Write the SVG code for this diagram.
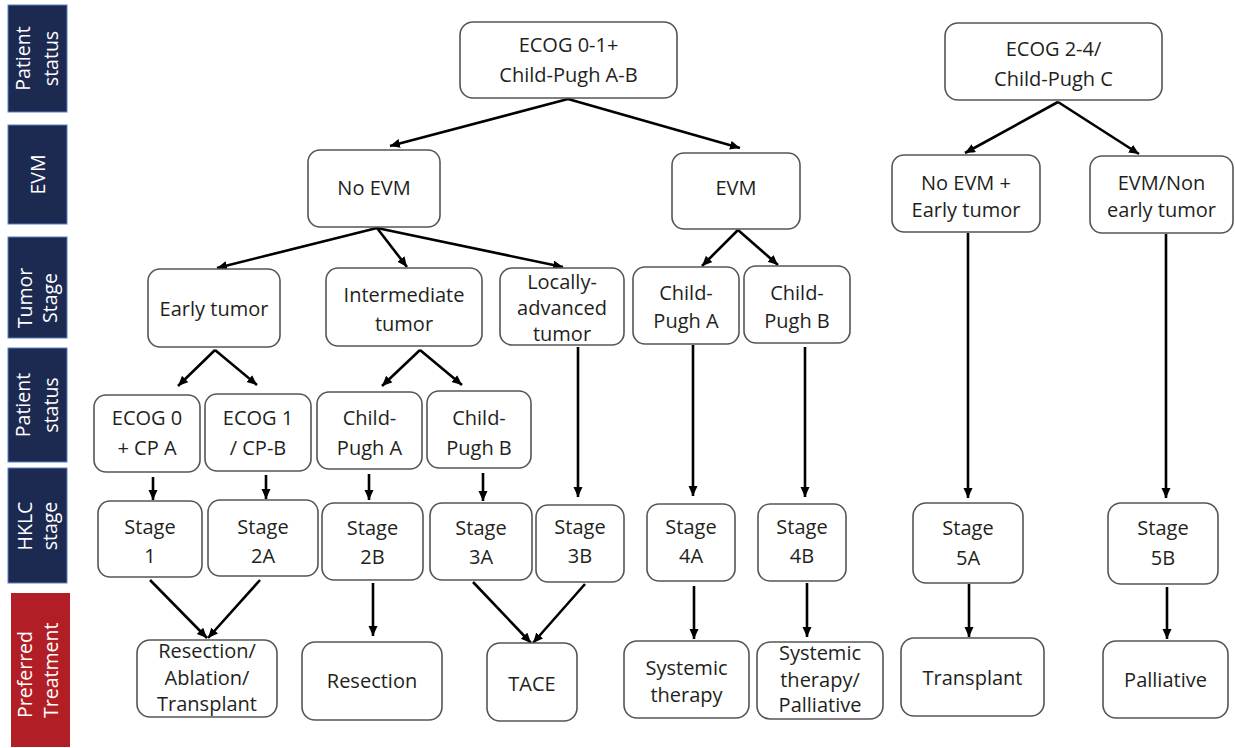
<svg xmlns="http://www.w3.org/2000/svg" width="1235" height="748" viewBox="0 0 1235 748">
<defs>
<marker id="ah" markerUnits="userSpaceOnUse" markerWidth="11" markerHeight="10" refX="10" refY="4.5" orient="auto">
<path d="M0,0 L10,4.5 L0,9 z" fill="#000"/>
</marker>
<style>
.side{fill:#1c2a52;stroke:#5b7fbf;stroke-width:1}
.red{fill:#b21e26}
.st{font-family:"Open Sans","Noto Sans",sans-serif;font-size:19.5px;fill:#fff;text-anchor:middle}
.box{fill:#fff;stroke:#555;stroke-width:1.6}
.t{font-family:"Open Sans","Noto Sans",sans-serif;font-size:20px;fill:#231f20;text-anchor:middle}
.c{fill:none;stroke:#000;stroke-width:2.6;marker-end:url(#ah)}
</style>
</defs>
<rect width="1235" height="748" fill="#fff"/>

<g id="sidebar">
<rect class="side" x="8" y="5" width="59" height="107"/>
<g transform="translate(0,58.5) rotate(-90)"><text class="st" x="0" y="30">Patient</text><text class="st" x="0" y="58">status</text></g>
<rect class="side" x="8" y="125" width="59" height="99"/>
<g transform="translate(0,174.5) rotate(-90)"><text class="st" x="0" y="45">EVM</text></g>
<rect class="side" x="8" y="237" width="59" height="101"/>
<g transform="translate(0,298) rotate(-90)"><text class="st" x="0" y="32">Tumor</text><text class="st" x="0" y="57">Stage</text></g>
<rect class="side" x="8" y="348" width="59" height="114"/>
<g transform="translate(0,405) rotate(-90)"><text class="st" x="0" y="30">Patient</text><text class="st" x="0" y="58">status</text></g>
<rect class="side" x="8" y="468" width="59" height="115"/>
<g transform="translate(0,526) rotate(-90)"><text class="st" x="0" y="32">HKLC</text><text class="st" x="0" y="57">stage</text></g>
<rect class="red" x="11" y="593" width="59" height="154"/>
<g transform="translate(0,718) rotate(-90)"><text class="st" x="0" y="32" style="text-anchor:start">Preferred</text><text class="st" x="0" y="58" style="text-anchor:start">Treatment</text></g>
</g>

<g id="connectors">
<line class="c" x1="568" y1="99" x2="390" y2="146"/>
<line class="c" x1="568" y1="99" x2="740" y2="148"/>
<line class="c" x1="1058" y1="102" x2="965" y2="153"/>
<line class="c" x1="1058" y1="102" x2="1139" y2="154"/>
<line class="c" x1="377" y1="228" x2="217" y2="268"/>
<line class="c" x1="377" y1="228" x2="407" y2="267"/>
<line class="c" x1="377" y1="228" x2="563" y2="267"/>
<line class="c" x1="738" y1="230" x2="702" y2="266"/>
<line class="c" x1="738" y1="230" x2="778" y2="265"/>
<line class="c" x1="215" y1="350" x2="178" y2="386"/>
<line class="c" x1="215" y1="350" x2="257" y2="385"/>
<line class="c" x1="420" y1="350" x2="382" y2="386"/>
<line class="c" x1="420" y1="350" x2="462" y2="385"/>
<line class="c" x1="578" y1="347" x2="578" y2="497"/>
<line class="c" x1="693" y1="345" x2="693" y2="496"/>
<line class="c" x1="805" y1="347" x2="805" y2="497"/>
<line class="c" x1="968" y1="233" x2="968" y2="498"/>
<line class="c" x1="1166" y1="234" x2="1166" y2="498"/>
<line class="c" x1="153" y1="477" x2="153" y2="500"/>
<line class="c" x1="266" y1="475" x2="266" y2="499"/>
<line class="c" x1="369" y1="474" x2="369" y2="500"/>
<line class="c" x1="483" y1="473" x2="483" y2="501"/>
<line class="c" x1="150" y1="580" x2="207" y2="638"/>
<line class="c" x1="260" y1="580" x2="208" y2="638"/>
<line class="c" x1="373" y1="583" x2="373" y2="636"/>
<line class="c" x1="473" y1="582" x2="531" y2="643"/>
<line class="c" x1="585" y1="584" x2="533" y2="643"/>
<line class="c" x1="694" y1="586" x2="694" y2="639"/>
<line class="c" x1="807" y1="583" x2="807" y2="637"/>
<line class="c" x1="969" y1="584" x2="969" y2="637"/>
<line class="c" x1="1167" y1="587" x2="1167" y2="639"/>
</g>

<g id="n_top"><rect class="box" x="460" y="22" width="217" height="76" rx="13"/><text class="t" x="568.5" y="52">ECOG 0-1+</text><text class="t" x="568.5" y="82">Child-Pugh A-B</text></g>
<g id="n_top_right"><rect class="box" x="945" y="23" width="217" height="77" rx="13"/><text class="t" x="1053.5" y="56">ECOG 2-4/</text><text class="t" x="1053.5" y="86">Child-Pugh C</text></g>
<g id="n_no_evm"><rect class="box" x="308" y="150" width="132" height="77" rx="12"/><text class="t" x="374" y="195">No EVM</text></g>
<g id="n_evm"><rect class="box" x="672" y="153" width="128" height="76" rx="12"/><text class="t" x="736" y="195">EVM</text></g>
<g id="n_noevm_early"><rect class="box" x="892" y="155" width="148" height="77" rx="12"/><text class="t" x="966" y="190">No EVM +</text><text class="t" x="966" y="217">Early tumor</text></g>
<g id="n_evm_nonearly"><rect class="box" x="1090" y="156" width="143" height="77" rx="12"/><text class="t" x="1161.5" y="190">EVM/Non</text><text class="t" x="1161.5" y="217">early tumor</text></g>

<g id="n_early"><rect class="box" x="148" y="269" width="132" height="78" rx="12"/><text class="t" x="214" y="316">Early tumor</text></g>
<g id="n_intermediate"><rect class="box" x="326" y="268" width="156" height="78" rx="12"/><text class="t" x="404" y="302">Intermediate</text><text class="t" x="404" y="331">tumor</text></g>
<g id="n_locally"><rect class="box" x="500" y="268" width="124" height="77" rx="12"/><text class="t" x="562" y="289">Locally-</text><text class="t" x="562" y="315">advanced</text><text class="t" x="562" y="341">tumor</text></g>
<g id="n_cpa_top"><rect class="box" x="633" y="267" width="106" height="77" rx="12"/><text class="t" x="686" y="300">Child-</text><text class="t" x="686" y="328">Pugh A</text></g>
<g id="n_cpb_top"><rect class="box" x="744" y="266" width="106" height="77" rx="12"/><text class="t" x="797" y="300">Child-</text><text class="t" x="797" y="328">Pugh B</text></g>

<g id="n_ecog0"><rect class="box" x="94" y="395" width="106" height="77" rx="12"/><text class="t" x="147" y="425">ECOG 0</text><text class="t" x="147" y="455">+ CP A</text></g>
<g id="n_ecog1"><rect class="box" x="205" y="394" width="106" height="77" rx="12"/><text class="t" x="258" y="425">ECOG 1</text><text class="t" x="258" y="455">/ CP-B</text></g>
<g id="n_cpa"><rect class="box" x="317" y="392" width="105" height="77" rx="12"/><text class="t" x="369.5" y="425">Child-</text><text class="t" x="369.5" y="455">Pugh A</text></g>
<g id="n_cpb"><rect class="box" x="427" y="391" width="104" height="77" rx="12"/><text class="t" x="479" y="425">Child-</text><text class="t" x="479" y="455">Pugh B</text></g>

<g id="n_stage1"><rect class="box" x="98" y="501" width="104" height="76" rx="12"/><text class="t" x="150" y="534">Stage</text><text class="t" x="150" y="563">1</text></g>
<g id="n_stage2a"><rect class="box" x="208" y="500" width="110" height="76" rx="12"/><text class="t" x="263" y="534">Stage</text><text class="t" x="263" y="563">2A</text></g>
<g id="n_stage2b"><rect class="box" x="322" y="503" width="101" height="77" rx="12"/><text class="t" x="372.5" y="535">Stage</text><text class="t" x="372.5" y="564">2B</text></g>
<g id="n_stage3a"><rect class="box" x="430" y="503" width="102" height="77" rx="12"/><text class="t" x="481" y="535">Stage</text><text class="t" x="481" y="564">3A</text></g>
<g id="n_stage3b"><rect class="box" x="536" y="505" width="88" height="77" rx="12"/><text class="t" x="580" y="534">Stage</text><text class="t" x="580" y="563">3B</text></g>
<g id="n_stage4a"><rect class="box" x="647" y="504" width="88" height="77" rx="12"/><text class="t" x="691" y="534">Stage</text><text class="t" x="691" y="563">4A</text></g>
<g id="n_stage4b"><rect class="box" x="758" y="504" width="88" height="77" rx="12"/><text class="t" x="802" y="534">Stage</text><text class="t" x="802" y="563">4B</text></g>
<g id="n_stage5a"><rect class="box" x="913" y="503" width="110" height="80" rx="13"/><text class="t" x="968" y="535">Stage</text><text class="t" x="968" y="565">5A</text></g>
<g id="n_stage5b"><rect class="box" x="1108" y="503" width="110" height="81" rx="13"/><text class="t" x="1163" y="535">Stage</text><text class="t" x="1163" y="565">5B</text></g>

<g id="n_rat"><rect class="box" x="137" y="640" width="140" height="77" rx="13"/><text class="t" x="207" y="658">Resection/</text><text class="t" x="207" y="685">Ablation/</text><text class="t" x="207" y="711">Transplant</text></g>
<g id="n_resection"><rect class="box" x="302" y="642" width="140" height="78" rx="13"/><text class="t" x="372" y="688">Resection</text></g>
<g id="n_tace"><rect class="box" x="487" y="643" width="90" height="78" rx="13"/><text class="t" x="532" y="691">TACE</text></g>
<g id="n_systemic"><rect class="box" x="624" y="641" width="125" height="77" rx="13"/><text class="t" x="686.5" y="675">Systemic</text><text class="t" x="686.5" y="702">therapy</text></g>
<g id="n_sys_pall"><rect class="box" x="757" y="642" width="126" height="77" rx="13"/><text class="t" x="820" y="660">Systemic</text><text class="t" x="820" y="687">therapy/</text><text class="t" x="820" y="712">Palliative</text></g>
<g id="n_transplant"><rect class="box" x="901" y="638" width="143" height="78" rx="13"/><text class="t" x="972.5" y="685">Transplant</text></g>
<g id="n_palliative"><rect class="box" x="1103" y="641" width="125" height="77" rx="13"/><text class="t" x="1165.5" y="687">Palliative</text></g>
</svg>
